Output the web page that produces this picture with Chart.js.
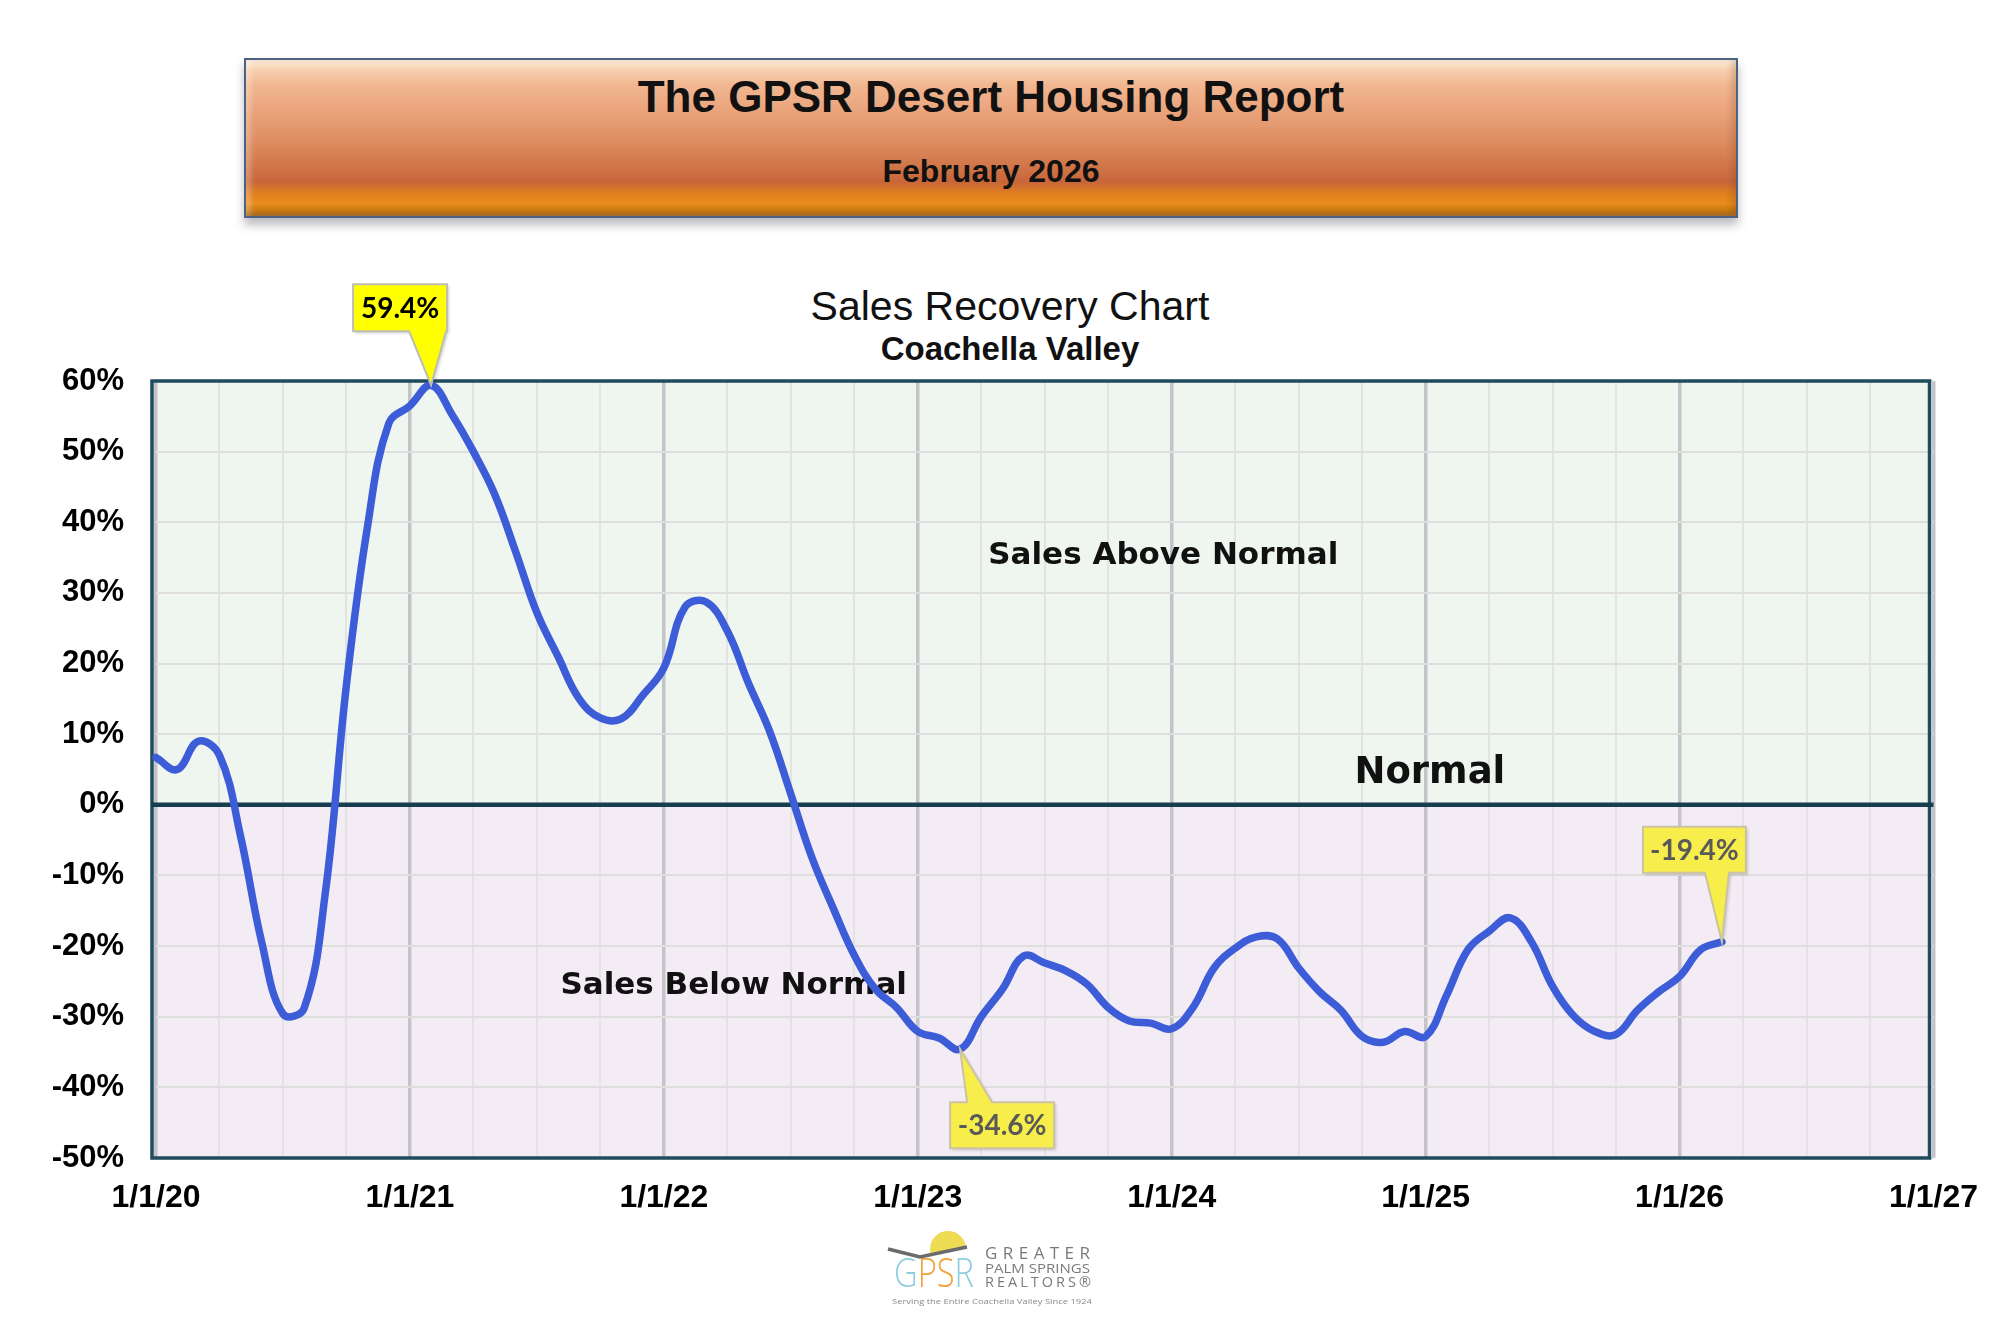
<!DOCTYPE html>
<html>
<head>
<meta charset="utf-8">
<title>Sales Recovery Chart - Coachella Valley</title>
<script src="https://cdn.jsdelivr.net/npm/chart.js@4.4.1/dist/chart.umd.min.js"></script>
<style>
  html, body { margin: 0; padding: 0; background: #fff; }
  #page { position: relative; width: 1999px; height: 1323px; overflow: hidden; font-family: "Liberation Sans", Arial, sans-serif; }
  #banner {
    position: absolute; left: 244px; top: 58px; width: 1490px; height: 156px;
    border: 2px solid #4d6282;
    background: linear-gradient(to bottom, #fdeedd 0%, #f7d2b2 6%, #f1b791 16%, #e9a27a 34%, #de8d61 52%, #d17649 68%, #c8663a 78%, #e0801f 86%, #e98c1b 92%, #c47512 97%, #9a5c12 100%);
    box-shadow: 0 7px 9px rgba(60, 60, 80, 0.35), inset 5px 0 5px rgba(255,255,255,0.25), inset -5px 0 5px rgba(120,60,20,0.2);
    text-align: center; color: #111;
  }
  #banner .t1 { position: absolute; left: 0; right: 0; top: 12px; font-size: 44px; font-weight: bold; }
  #banner .t2 { position: absolute; left: 0; right: 0; top: 93px; font-size: 32px; font-weight: bold; }
  #ctitle { position: absolute; left: 560px; width: 900px; top: 283px; text-align: center; font-size: 41px; color: #111; }
  #csub { position: absolute; left: 560px; width: 900px; top: 330px; text-align: center; font-size: 33px; font-weight: bold; color: #111; }
  #chartBox { position: absolute; left: 0; top: 250px; width: 1999px; height: 1000px; }
  #logo { position: absolute; left: 860px; top: 1220px; }
</style>
</head>
<body>
<div id="page">
  <div id="banner">
    <div class="t1">The GPSR Desert Housing Report</div>
    <div class="t2">February 2026</div>
  </div>
  <div id="ctitle">Sales Recovery Chart</div>
  <div id="csub">Coachella Valley</div>
  <div id="chartBox"><canvas id="recoveryChart"></canvas></div>
  <svg id="logo" width="260" height="100" viewBox="0 0 260 100">
    <defs>
      <clipPath id="sunClip"><polygon points="0,0 260,0 260,26 107,26 60,36 28,28 0,28"/></clipPath>
    </defs>
    <circle cx="88" cy="29" r="18" fill="#eedc55" clip-path="url(#sunClip)"/>
    <polyline points="28,29 60,37 107,27" fill="none" stroke="#6b6b6b" stroke-width="3.5"/>
    <text x="34" y="67" font-family="Open Sans, sans-serif" font-weight="300" font-size="40" textLength="80" lengthAdjust="spacingAndGlyphs"><tspan fill="#8fcde0">G</tspan><tspan fill="#f0a234">P</tspan><tspan fill="#f0a234">S</tspan><tspan fill="#8fcde0">R</tspan></text>
    <text x="125" y="39" font-family="Open Sans, sans-serif" font-size="17" fill="#7a7a7a" textLength="105" lengthAdjust="spacing">GREATER</text>
    <text x="125" y="52.5" font-family="Open Sans, sans-serif" font-size="12" fill="#7a7a7a" textLength="105" lengthAdjust="spacingAndGlyphs">PALM SPRINGS</text>
    <text x="125" y="67" font-family="Open Sans, sans-serif" font-size="14.5" fill="#7a7a7a" textLength="106" lengthAdjust="spacing">REALTORS®</text>
    <text x="32" y="84" font-family="Open Sans, sans-serif" font-size="7.5" fill="#8a8a8a" textLength="200" lengthAdjust="spacingAndGlyphs">Serving the Entire Coachella Valley Since 1924</text>
  </svg>
</div>

<script>
// Monthly sales vs. normal (%), Jan 2020 .. Mar 2026 (x = months since 1/1/20)
const salesVsNormal = [
    6.7, 5.0, 9.0, 7.0, -4.5, -19.5, -29.6, -28.8, -12.5, 17.0, 39.5, 54.0,       // 2020
    56.5, 59.4, 55.2, 50.0, 44.0, 35.8, 27.2, 21.0, 15.0, 12.3, 12.2, 15.5,       // 2021
    19.4, 28.0, 28.7, 24.6, 17.2, 10.4, 1.5, -7.5, -14.6, -21.3, -26.1, -28.7,    // 2022
    -32.1, -33.0, -34.6, -30.0, -26.1, -21.4, -22.4, -23.5, -25.4, -28.7, -30.6, -30.9, // 2023
    -31.7, -28.7, -23.1, -20.3, -18.7, -19.0, -23.1, -26.5, -29.1, -32.8, -33.6, -32.1, // 2024
    -32.8, -26.9, -20.5, -17.9, -16.0, -19.4, -25.7, -29.9, -32.1, -32.5, -29.1, -26.5, // 2025
    -24.3, -20.5, -19.4                                                            // 2026
];
const xTickLabels = ['1/1/20', '1/1/21', '1/1/22', '1/1/23', '1/1/24', '1/1/25', '1/1/26', '1/1/27'];
const yMin = -50;
const yMax = 60;

// callouts: month index of the point and its label
const calloutIndex = [13, 38, 74];
const calloutText = ['59.4%', '-34.6%', '-19.4%'];

// zone labels, placed in data units
const zoneText = ['Sales Above Normal', 'Normal', 'Sales Below Normal'];
const zoneX = [47.6, 60.2, 27.3];
const zoneY = [35.3, 4.4, -25.6];

const points = salesVsNormal.map((v, i) => ({ x: i, y: v }));

const calloutStyle = [
    { box: [-78, -101, 16, -54], base: [-22, 15], fill: '#ffff00', text: '#000000', border: '#bdbdb4' },
    { box: [-10, 53, 94, 99], base: [7, 32], fill: '#f7ee4c', text: '#595959', border: '#cbc3a2' },
    { box: [-79, -115, 24, -69], base: [-17, 7], fill: '#f7ee4c', text: '#595959', border: '#cbc3a2' }
];
const zoneFont = ['bold 31px "DejaVu Sans", Verdana, sans-serif', 'bold 37px "DejaVu Sans", Verdana, sans-serif', 'bold 31px "DejaVu Sans", Verdana, sans-serif'];
const frameShift = 4; // the frame sits a few px left of the date axis

const recoveryPlugin = {
    id: 'recovery',
    beforeDraw(chart) {
        const { ctx, chartArea: a, scales: { y } } = chart;
        const y0 = y.getPixelForValue(0);
        ctx.save();
        ctx.fillStyle = '#eff5ef';
        ctx.fillRect(a.left - frameShift, a.top, a.width, y0 - a.top);
        ctx.fillStyle = '#f4ecf5';
        ctx.fillRect(a.left - frameShift, y0, a.width, a.bottom - y0);
        ctx.restore();
    },
    beforeDatasetsDraw(chart) {
        const { ctx, chartArea: a, scales: { x, y } } = chart;
        ctx.save();
        // plot frame
        ctx.strokeStyle = '#1e4b5d';
        ctx.lineWidth = 3.5;
        ctx.strokeRect(a.left - frameShift, a.top, a.width, a.height);
        // the "normal" line
        const y0 = y.getPixelForValue(0);
        ctx.strokeStyle = '#173e50';
        ctx.lineWidth = 4.5;
        ctx.beginPath();
        ctx.moveTo(a.left - frameShift - 1, y0);
        ctx.lineTo(a.right, y0);
        ctx.stroke();
        // zone labels
        ctx.fillStyle = '#111';
        ctx.textAlign = 'center';
        ctx.textBaseline = 'middle';
        zoneText.forEach((t, i) => {
            ctx.font = zoneFont[i];
            ctx.fillText(t, x.getPixelForValue(zoneX[i]), y.getPixelForValue(zoneY[i]));
        });
        ctx.restore();
    },
    afterDatasetsDraw(chart) {
        const { ctx, scales: { x, y } } = chart;
        ctx.save();
        calloutIndex.forEach((idx, i) => {
            const s = calloutStyle[i];
            const px = x.getPixelForValue(idx);
            const py = y.getPixelForValue(salesVsNormal[idx]);
            const [l, t, r, b] = s.box.map((d, k) => (k % 2 ? py : px) + d);
            const b1 = px + s.base[0], b2 = px + s.base[1];
            ctx.beginPath();
            if (s.box[1] < 0) {
                // pointer hangs from the bottom edge
                ctx.moveTo(l, t); ctx.lineTo(r, t); ctx.lineTo(r, b);
                ctx.lineTo(b2, b); ctx.lineTo(px, py); ctx.lineTo(b1, b);
                ctx.lineTo(l, b);
            } else {
                // pointer rises from the top edge
                ctx.moveTo(l, t); ctx.lineTo(b1, t); ctx.lineTo(px, py);
                ctx.lineTo(b2, t); ctx.lineTo(r, t); ctx.lineTo(r, b);
                ctx.lineTo(l, b);
            }
            ctx.closePath();
            ctx.shadowColor = 'rgba(0,0,0,0.18)';
            ctx.shadowOffsetX = 2;
            ctx.shadowOffsetY = 2;
            ctx.shadowBlur = 3;
            ctx.fillStyle = s.fill;
            ctx.fill();
            ctx.shadowColor = 'transparent';
            ctx.strokeStyle = s.border;
            ctx.lineWidth = 2;
            ctx.stroke();
            ctx.fillStyle = s.text;
            ctx.font = 'bold 28px Lato, "Open Sans", sans-serif';
            ctx.textAlign = 'center';
            ctx.textBaseline = 'middle';
            ctx.fillText(calloutText[i], (l + r) / 2, (t + b) / 2 + 1);
        });
        ctx.restore();
    }
};

const recoveryCtx = document.getElementById('recoveryChart');
new Chart(recoveryCtx, {
    type: 'line',
    data: {
        datasets: [{
            label: 'Sales vs Normal',
            data: points,
            borderColor: '#3c5cd8',
            borderWidth: 7.5,
            pointRadius: 0,
            fill: false,
            tension: 0.4,
            borderJoinStyle: 'round',
            borderCapStyle: 'round',
            clip: false
        }]
    },
    options: {
        responsive: true,
        maintainAspectRatio: false,
        animation: false,
        layout: {
            padding: { top: 131, right: 61, bottom: 32, left: 0 }
        },
        scales: {
            x: {
                type: 'linear',
                min: 0,
                max: 84,
                border: { display: false },
                grid: {
                    drawTicks: false,
                    color: (c) => (c.tick && c.tick.value % 12 === 0) ? '#c3c3c9' : '#e3e3e3',
                    lineWidth: (c) => (c.tick && c.tick.value % 12 === 0) ? 3.5 : 2
                },
                ticks: {
                    stepSize: 3,
                    autoSkip: false,
                    maxRotation: 0,
                    padding: 21,
                    color: '#000',
                    font: { family: '"Liberation Sans", Arial, sans-serif', size: 32, weight: 'bold' },
                    callback: (v) => (v % 12 === 0) ? xTickLabels[v / 12] : ''
                },
                afterFit: (scale) => { scale.height = 60; }
            },
            y: {
                min: yMin,
                max: yMax,
                border: { display: false },
                grid: {
                    drawTicks: false,
                    color: '#dedede',
                    lineWidth: 2
                },
                ticks: {
                    stepSize: 10,
                    padding: 32,
                    color: '#000',
                    font: { family: '"Liberation Sans", Arial, sans-serif', size: 31, weight: 'bold' },
                    callback: (v) => v + '%'
                },
                afterFit: (scale) => { scale.width = 156; }
            }
        },
        plugins: {
            legend: { display: false },
            tooltip: { enabled: false }
        }
    },
    plugins: [recoveryPlugin]
});
</script>
</body>
</html>
